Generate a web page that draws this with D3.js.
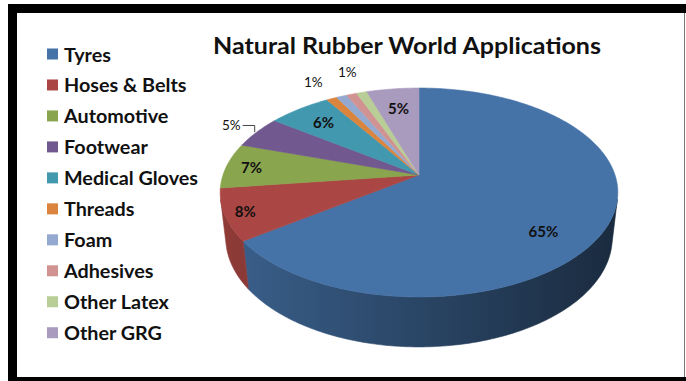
<!DOCTYPE html>
<html>
<head>
<meta charset="utf-8">
<script src="https://cdn.jsdelivr.net/npm/d3@7"></script>
<style>
  body { margin: 0; background: #fff; }
  svg { display: block; font-family: Lato, "Open Sans", sans-serif; }
</style>
</head>
<body>
<svg id="chart" width="686" height="381"></svg>
<script>
const categories = ["Tyres", "Hoses & Belts", "Automotive", "Footwear", "Medical Gloves",
                    "Threads", "Foam", "Adhesives", "Other Latex", "Other GRG"];
const shares = [65, 8, 7, 5, 6, 1, 1, 1, 1, 5];
const sliceColors = ["#4572a7", "#aa4643", "#89a54e", "#71588f", "#4198af",
                     "#db843d", "#93a9cf", "#d19392", "#b9cd96", "#a99bbd"];
// only some of the small slices show their % in the original (others overlap)
const labelled = [true, true, true, true, true, true, false, false, true, true];
const title = "Natural Rubber World Applications";

const svg = d3.select("#chart");
const width = +svg.attr("width");
const height = +svg.attr("height");

// label placement: [radius fraction, angle nudge in degrees, outside?]
const labelLayout = [[0.77, 14, false], [0.9, 0, false], [0.87, 0, false], [1.17, 0, true],
                     [0.78, 0, false], [1.25, 0, true], [1.3, 0, true], [1.3, 0, true],
                     [1.3, 0, true], [0.75, 0, false]];

const color = d3.scaleOrdinal(categories, sliceColors);

// ---- frame (black border around the pasted chart) ----
svg.append("rect").attr("width", width).attr("height", height).attr("fill", "#fff");
svg.append("rect").attr("x", 8).attr("y", 4).attr("width", width - 8).attr("height", 9).attr("fill", "#000");
svg.append("rect").attr("x", 8).attr("y", 4).attr("width", 9).attr("height", height - 4).attr("fill", "#000");
svg.append("rect").attr("x", 8).attr("y", 377).attr("width", width - 8).attr("height", 4).attr("fill", "#000");
svg.append("line").attr("x1", 684.5).attr("x2", 684.5).attr("y1", 13).attr("y2", 377)
    .attr("stroke", "#777").attr("stroke-width", 1);

// ---- 3D pie projection ----
const R = 196, tilt = 31.2 * Math.PI / 180, camDist = 5.11, depth = 0.277;
const cx = 419, cy = 175;

function project(r, a, h) {
    const X = r * Math.sin(a), Z = -r * Math.cos(a), Y = -h * depth;
    const sy = -Y * Math.cos(tilt) + Z * Math.sin(tilt);
    const dz = Y * Math.sin(tilt) + Z * Math.cos(tilt);
    const s = camDist / (camDist - dz);
    return [cx + R * X * s, cy + R * sy * s];
}

const pie = d3.pie().sort(null).value(d => d.v);
const arcs = pie(categories.map((c, i) => ({ c, v: shares[i], i })));
const line = d3.line();

function arcPoints(a0, a1, r, h) {
    const n = Math.max(2, Math.ceil((a1 - a0) / (Math.PI / 180)));
    return d3.range(n + 1).map(k => project(r, a0 + (a1 - a0) * k / n, h));
}

// side wall visible where the outer face turns toward the camera
const zs = 1 / (camDist * Math.cos(tilt));
const wallMin = Math.PI - Math.acos(zs), wallMax = Math.PI + Math.acos(zs);

const defs = svg.append("defs");
arcs.forEach(d => {
    const base = color(d.data.c);
    const g = defs.append("linearGradient").attr("id", "side" + d.data.i)
        .attr("gradientUnits", "userSpaceOnUse")
        .attr("x1", cx - R).attr("x2", cx + R).attr("y1", 0).attr("y2", 0);
    g.append("stop").attr("offset", 0).attr("stop-color", d3.interpolateRgb(base, "#000")(0.16));
    g.append("stop").attr("offset", 1).attr("stop-color", d3.interpolateRgb(base, "#000")(0.62));
});

const pieG = svg.append("g");

pieG.selectAll("path.side")
    .data(arcs.filter(d => d.endAngle > wallMin && d.startAngle < wallMax))
    .join("path")
    .attr("class", "side")
    .attr("d", d => {
        const a0 = Math.max(d.startAngle, wallMin), a1 = Math.min(d.endAngle, wallMax);
        const pts = arcPoints(a0, a1, 1, 0).concat(arcPoints(a0, a1, 1, 1).reverse());
        return line(pts) + "Z";
    })
    .attr("fill", d => `url(#side${d.data.i})`)
    .attr("stroke", d => `url(#side${d.data.i})`)
    .attr("stroke-width", 0.6);

pieG.selectAll("path.top")
    .data(arcs)
    .join("path")
    .attr("class", "top")
    .attr("d", d => line([project(0, 0, 0)].concat(arcPoints(d.startAngle, d.endAngle, 1, 0))) + "Z")
    .attr("fill", d => color(d.data.c))
    .attr("stroke", d => color(d.data.c))
    .attr("stroke-width", 0.6)
    .attr("stroke-linejoin", "round");

// ---- data labels ----
const labelG = svg.append("g");
arcs.forEach(d => {
    const i = d.data.i;
    if (!labelled[i]) return;
    const [f, nudge, outside] = labelLayout[i];
    const mid = (d.startAngle + d.endAngle) / 2 + nudge * Math.PI / 180;
    const [x, y] = project(f, mid, 0);
    const t = labelG.append("text")
        .attr("x", x).attr("y", y)
        .attr("text-anchor", "middle")
        .attr("dominant-baseline", "central")
        .attr("font-size", outside ? 13.5 : 15)
        .attr("font-weight", outside ? 400 : 700)
        .attr("fill", "#111")
        .text(d.data.v + "%");
    if (outside && i === 3) {
        const w = t.node().getComputedTextLength();
        const [px, py] = project(1, mid, 0);
        labelG.append("path")
            .attr("d", line([[x + w / 2 + 2, y], [px - 2, y], [px - 2, py]]))
            .attr("fill", "none").attr("stroke", "#444").attr("stroke-width", 1);
    }
});

// ---- title ----
svg.append("text")
    .attr("x", 407).attr("y", 54)
    .attr("text-anchor", "middle")
    .attr("font-size", 22.5)
    .attr("font-weight", 700)
    .attr("fill", "#111")
    .attr("textLength", 388)
    .attr("lengthAdjust", "spacingAndGlyphs")
    .text(title);

// ---- legend ----
const legend = svg.append("g").attr("transform", "translate(47,54)");
const rows = legend.selectAll("g").data(categories).join("g")
    .attr("transform", (d, i) => `translate(0,${i * 30.97})`);
rows.append("rect").attr("x", 0).attr("y", -5.5).attr("width", 11).attr("height", 11)
    .attr("fill", d => color(d));
const legendText = rows.append("text")
    .attr("x", 17).attr("y", 0)
    .attr("dominant-baseline", "central")
    .attr("font-size", 19)
    .attr("font-weight", 700)
    .attr("fill", "#111")
    .text(d => d);
// squeeze to the narrower original face: "Medical Gloves" spans ~134px
const ref = legendText.filter(d => d === "Medical Gloves").node().getComputedTextLength();
const squeeze = 134 / ref;
legendText.each(function () {
    const w = this.getComputedTextLength();
    d3.select(this).attr("textLength", w * squeeze).attr("lengthAdjust", "spacingAndGlyphs");
});
</script>
</body>
</html>
